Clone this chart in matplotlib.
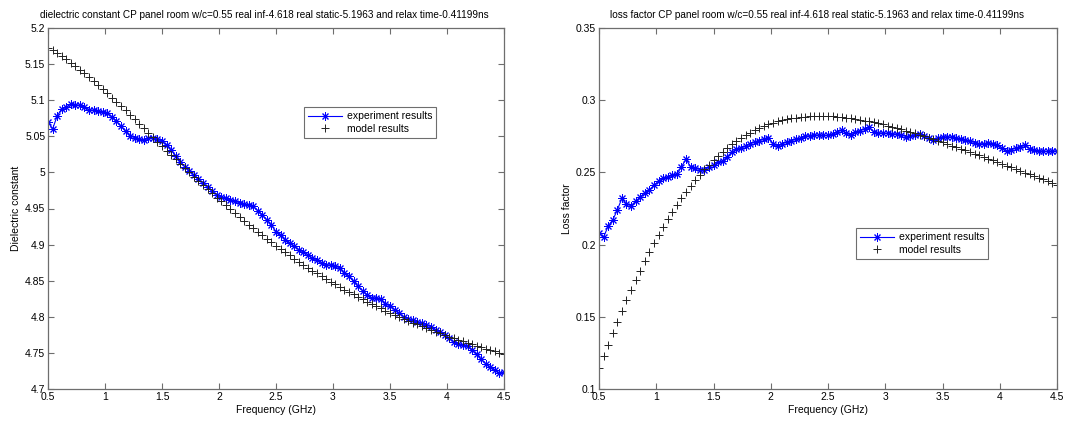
import numpy as np
import matplotlib
matplotlib.use("Agg")
import matplotlib.pyplot as plt
from matplotlib.ticker import FormatStrFormatter, MultipleLocator

plt.rcParams['font.family'] = ['Liberation Sans', 'DejaVu Sans']

# Frequency grid (GHz), 0.04 GHz steps
freq = np.round(np.linspace(0.5, 4.5, 101), 2)

# Dielectric constant: measured
diel_exp = [
    5.070, 5.060, 5.078, 5.088, 5.090, 5.095, 5.094, 5.093, 5.090, 5.087,
    5.086, 5.085, 5.084, 5.082, 5.077, 5.071, 5.064, 5.057, 5.051, 5.048,
    5.046, 5.045, 5.047, 5.048, 5.046, 5.043, 5.038, 5.031, 5.023, 5.015,
    5.008, 5.002, 4.996, 4.991, 4.985, 4.980, 4.974, 4.969, 4.966, 4.964,
    4.962, 4.960, 4.958, 4.956, 4.955, 4.953, 4.947, 4.941, 4.934, 4.927,
    4.918, 4.913, 4.907, 4.902, 4.898, 4.893, 4.890, 4.886, 4.881, 4.878,
    4.875, 4.872, 4.872, 4.871, 4.867, 4.861, 4.856, 4.849, 4.842, 4.836,
    4.830, 4.826, 4.826, 4.824, 4.818, 4.815, 4.810, 4.805, 4.800, 4.797,
    4.795, 4.793, 4.791, 4.789, 4.786, 4.782, 4.779, 4.775, 4.770, 4.765,
    4.762, 4.761, 4.759, 4.754, 4.748, 4.741, 4.735, 4.730, 4.726, 4.722,
    4.723,
]

# Dielectric constant: Debye model
diel_model = [
    5.1728, 5.1690, 5.1651, 5.1609, 5.1565, 5.1519, 5.1471, 5.1422, 5.1371, 5.1318,
    5.1264, 5.1209, 5.1152, 5.1095, 5.1037, 5.0978, 5.0918, 5.0858, 5.0797, 5.0735,
    5.0674, 5.0612, 5.0550, 5.0488, 5.0427, 5.0365, 5.0303, 5.0242, 5.0181, 5.0120,
    5.0060, 5.0000, 4.9941, 4.9882, 4.9823, 4.9766, 4.9709, 4.9652, 4.9597, 4.9542,
    4.9487, 4.9434, 4.9381, 4.9329, 4.9278, 4.9227, 4.9177, 4.9128, 4.9080, 4.9033,
    4.8986, 4.8940, 4.8895, 4.8851, 4.8807, 4.8765, 4.8723, 4.8682, 4.8641, 4.8601,
    4.8562, 4.8524, 4.8486, 4.8450, 4.8413, 4.8378, 4.8343, 4.8309, 4.8275, 4.8243,
    4.8210, 4.8179, 4.8148, 4.8117, 4.8087, 4.8058, 4.8029, 4.8001, 4.7974, 4.7946,
    4.7920, 4.7894, 4.7868, 4.7843, 4.7819, 4.7795, 4.7771, 4.7748, 4.7725, 4.7703,
    4.7681, 4.7659, 4.7638, 4.7618, 4.7597, 4.7577, 4.7558, 4.7539, 4.7520, 4.7501,
    4.7483,
]

# Loss factor: measured
loss_exp = [
    0.2080, 0.2050, 0.2130, 0.2170, 0.2240, 0.2320, 0.2280, 0.2270, 0.2300, 0.2330,
    0.2360, 0.2380, 0.2410, 0.2440, 0.2460, 0.2470, 0.2480, 0.2490, 0.2540, 0.2590,
    0.2540, 0.2530, 0.2520, 0.2520, 0.2540, 0.2550, 0.2570, 0.2580, 0.2610, 0.2640,
    0.2660, 0.2670, 0.2680, 0.2700, 0.2710, 0.2720, 0.2730, 0.2740, 0.2700, 0.2680,
    0.2700, 0.2710, 0.2720, 0.2730, 0.2735, 0.2750, 0.2755, 0.2760, 0.2758, 0.2756,
    0.2757, 0.2765, 0.2780, 0.2793, 0.2770, 0.2760, 0.2778, 0.2790, 0.2802, 0.2811,
    0.2780, 0.2775, 0.2772, 0.2771, 0.2768, 0.2766, 0.2762, 0.2748, 0.2752, 0.2762,
    0.2763, 0.2752, 0.2735, 0.2726, 0.2738, 0.2744, 0.2746, 0.2746, 0.2737, 0.2730,
    0.2724, 0.2716, 0.2707, 0.2697, 0.2700, 0.2701, 0.2700, 0.2693, 0.2668, 0.2645,
    0.2658, 0.2668, 0.2677, 0.2687, 0.2665, 0.2655, 0.2650, 0.2646, 0.2646, 0.2646,
    0.2651,
]

# Loss factor: Debye model
loss_model = [
    0.1143, 0.1226, 0.1307, 0.1387, 0.1464, 0.1540, 0.1613, 0.1684, 0.1754, 0.1820,
    0.1885, 0.1948, 0.2008, 0.2065, 0.2121, 0.2174, 0.2225, 0.2274, 0.2320, 0.2365,
    0.2407, 0.2447, 0.2485, 0.2521, 0.2554, 0.2586, 0.2616, 0.2644, 0.2670, 0.2695,
    0.2717, 0.2738, 0.2758, 0.2776, 0.2792, 0.2807, 0.2820, 0.2833, 0.2843, 0.2853,
    0.2861, 0.2869, 0.2875, 0.2880, 0.2884, 0.2887, 0.2890, 0.2891, 0.2891, 0.2891,
    0.2890, 0.2889, 0.2886, 0.2883, 0.2879, 0.2875, 0.2870, 0.2865, 0.2859, 0.2853,
    0.2846, 0.2839, 0.2832, 0.2824, 0.2816, 0.2807, 0.2798, 0.2789, 0.2780, 0.2770,
    0.2760, 0.2750, 0.2740, 0.2729, 0.2719, 0.2708, 0.2697, 0.2686, 0.2675, 0.2664,
    0.2652, 0.2641, 0.2629, 0.2618, 0.2606, 0.2594, 0.2583, 0.2571, 0.2559, 0.2547,
    0.2535, 0.2523, 0.2511, 0.2499, 0.2487, 0.2476, 0.2464, 0.2452, 0.2440, 0.2428,
    0.2416,
]

params = "CP panel room w/c=0.55 real inf-4.618 real static-5.1963 and relax time-0.41199ns"
titles = ["dielectric constant " + params, "loss factor " + params]
ylabels = ["Dielectric constant", "Loss factor"]
xlabel = "Frequency (GHz)"
legend_labels = ["experiment results", "model results"]

W, H = 1070, 422
fig = plt.figure(figsize=(W / 100, H / 100), dpi=100)
fig.patch.set_facecolor("white")

def px_rect(x0, y0, x1, y1):
    return [x0 / W, 1 - y1 / H, (x1 - x0) / W, (y1 - y0) / H]

ax1 = fig.add_axes(px_rect(48, 28, 504, 389))
ax2 = fig.add_axes(px_rect(599, 28, 1057, 389))

FS = 7.5
frame = "#6e6e6e"
asterisk = (8, 2, 0)

def style(ax, ylim, ystep, ytitle, title):
    ax.set_xlim(0.5, 4.5)
    ax.set_ylim(*ylim)
    ax.xaxis.set_major_locator(MultipleLocator(0.5))
    ax.yaxis.set_major_locator(MultipleLocator(ystep))
    ax.xaxis.set_major_formatter(FormatStrFormatter('%g'))
    ax.yaxis.set_major_formatter(FormatStrFormatter('%g'))
    ax.tick_params(direction='in', length=4, width=0.8, color=frame,
                   top=True, right=True, labelsize=FS, pad=2)
    for s in ax.spines.values():
        s.set_color(frame)
        s.set_linewidth(0.9)
    ax.set_xlabel(xlabel, fontsize=FS, labelpad=2)
    ax.set_ylabel(ytitle, fontsize=FS, labelpad=3)
    ax.set_title(title, fontsize=7.2, pad=7, x=0.475)

def draw(ax, exp, model):
    ax.plot(freq, exp, color='#0000ff', lw=0.8, marker=asterisk, ms=5.8,
            mew=0.7, label=legend_labels[0])
    ax.plot(freq, model, ls='none', color='#222222', marker='+', ms=6,
            mew=0.7, label=legend_labels[1])

draw(ax1, diel_exp, diel_model)
draw(ax2, loss_exp, loss_model)
style(ax1, (4.7, 5.2), 0.05, ylabels[0], titles[0])
style(ax2, (0.1, 0.35), 0.05, ylabels[1], titles[1])

def legend(ax, x0, y0):
    leg = ax.legend(loc='upper left', bbox_to_anchor=(x0 / W, 1 - y0 / H),
                    bbox_transform=fig.transFigure, fontsize=FS, numpoints=1,
                    fancybox=False, framealpha=1, edgecolor=frame,
                    borderpad=0.4, labelspacing=0.25, handlelength=3.2,
                    handletextpad=0.5, borderaxespad=0)
    leg.get_frame().set_linewidth(0.8)

legend(ax1, 304, 107)
legend(ax2, 856, 228)

fig.savefig("out.png", dpi=100, facecolor="white")
